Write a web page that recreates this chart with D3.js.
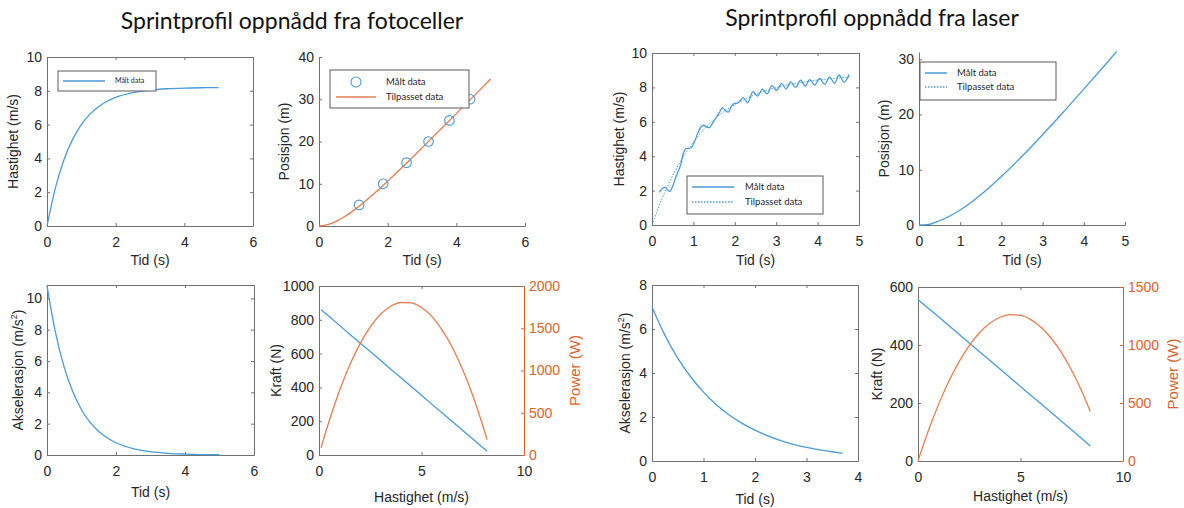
<!DOCTYPE html>
<html>
<head>
<meta charset="utf-8">
<script src="https://cdn.jsdelivr.net/npm/d3@7"></script>
<style>
body { margin: 0; background: #fff; }
</style>
</head>
<body>
<script>
// ---- Fotoceller ----
const fotoTid = [0, 0.25, 0.5, 0.75, 1, 1.25, 1.5, 1.75, 2, 2.5, 3, 3.5, 4, 4.5, 5];
const fotoFart = [0, 2.30, 3.95, 5.14, 6.00, 6.62, 7.06, 7.38, 7.61, 7.89, 8.04, 8.12, 8.16, 8.18, 8.19];

const fotoPosTid = [0, 0.25, 0.5, 0.75, 1, 1.5, 2, 2.5, 3, 3.5, 4, 4.5, 5];
const fotoPos = [0, 0.31, 1.10, 2.24, 3.64, 6.93, 10.62, 14.50, 18.49, 22.53, 26.60, 30.68, 34.78];
const fotoMaaltTid = [1.17, 1.87, 2.55, 3.19, 3.80, 4.40];
const fotoMaaltPos = [5, 10, 15, 20, 25, 30];

const fotoAksTid = [0, 0.25, 0.5, 0.75, 1, 1.25, 1.5, 1.75, 2, 2.5, 3, 3.5, 4, 4.5, 5];
const fotoAks = [10.8, 7.78, 5.59, 4.03, 2.89, 2.08, 1.50, 1.08, 0.78, 0.40, 0.21, 0.11, 0.06, 0.03, 0.015];

const fotoV = [0.1, 0.5, 1, 1.5, 2, 2.5, 3, 3.5, 4, 4.5, 5, 5.5, 6, 6.5, 7, 7.5, 8, 8.2];
const fotoKraft = [860, 819, 767, 715, 663, 612, 560, 508, 457, 405, 353, 301, 250, 198, 146, 94, 43, 22];
const fotoPower = [86, 405, 760, 1065, 1315, 1515, 1665, 1760, 1805, 1800, 1745, 1640, 1480, 1275, 1015, 705, 340, 180];

// ---- Laser ----
const laserMaaltTid = [0.18, 0.24, 0.31, 0.37, 0.43, 0.50, 0.57, 0.63, 0.70, 0.76, 0.82, 0.88, 0.95, 1.02, 1.10,
  1.18, 1.25, 1.32, 1.39, 1.48, 1.55, 1.63, 1.70, 1.77, 1.84, 1.91, 1.98, 2.08, 2.20, 2.31, 2.44, 2.55,
  2.67, 2.78, 2.90, 3.01, 3.13, 3.24, 3.35, 3.47, 3.59, 3.70, 3.81, 3.93, 4.05, 4.17, 4.29, 4.41, 4.52,
  4.64, 4.76];
const laserMaaltFart = [1.90, 2.10, 2.20, 2.05, 1.95, 2.25, 2.75, 3.10, 3.55, 4.20, 4.45, 4.45, 4.50, 4.80, 5.30,
  5.70, 5.80, 5.70, 5.66, 6.00, 6.25, 6.55, 6.82, 6.66, 6.56, 6.85, 7.06, 7.10, 7.40, 7.12, 7.75, 7.50,
  7.90, 7.62, 8.10, 7.82, 8.22, 7.92, 8.32, 8.00, 8.42, 8.08, 8.45, 8.14, 8.52, 8.18, 8.60, 8.24, 8.72,
  8.30, 8.75];
const laserTilpTid = [0, 0.2, 0.4, 0.6, 0.8, 1, 1.25, 1.5, 1.75, 2, 2.5, 3, 3.5, 4, 4.5, 4.8];
const laserTilpFart = [0, 1.29, 2.39, 3.33, 4.14, 4.82, 5.54, 6.12, 6.61, 7.00, 7.59, 7.99, 8.25, 8.43, 8.55, 8.61];

const laserPosTid = [0, 0.2, 0.5, 1, 1.5, 2, 2.5, 3, 3.5, 4, 4.5, 4.8];
const laserPos = [0, 0.05, 0.77, 2.72, 5.48, 8.78, 12.43, 16.34, 20.40, 24.58, 28.82, 31.40];

const laserAksTid = [0, 0.25, 0.5, 0.75, 1, 1.25, 1.5, 1.75, 2, 2.5, 3, 3.5, 3.7];
const laserAks = [7.0, 5.72, 4.68, 3.83, 3.13, 2.56, 2.09, 1.71, 1.40, 0.93, 0.62, 0.42, 0.35];

const laserV = [0, 0.5, 1, 1.5, 2, 2.5, 3, 3.5, 4, 4.5, 5, 5.5, 6, 6.5, 7, 7.5, 8, 8.4];
const laserKraft = [557, 527, 497, 467, 437, 407, 377, 347, 317, 287, 257, 227, 197, 167, 137, 107, 77, 52];
const laserPower = [0, 258, 486, 685, 855, 995, 1106, 1187, 1239, 1262, 1255, 1219, 1153, 1058, 934, 780, 597, 429];

const width = 1184, height = 508;
const blue = "#4a9ad6", orange = "#e67c50", orangeAxis = "#d9622b";
const ink = "#262626", axisCol = "#707070";
const axisFont = "'Liberation Sans', Arial, Helvetica, sans-serif";
const legendFont = "Lato, 'Open Sans', sans-serif";

const svg = d3.select("body").append("svg")
    .attr("width", width)
    .attr("height", height)
    .style("font-family", axisFont);

const zip = (a, b) => a.map((d, i) => [d, b[i]]);
const fmt = d => String(d);

function styleAxis(sel, col, textCol) {
    sel.attr("font-family", null);
    sel.selectAll(".domain").attr("stroke", col).attr("stroke-width", 1);
    sel.selectAll(".tick line").attr("stroke", col);
    sel.selectAll(".tick text")
        .attr("fill", textCol)
        .attr("font-size", 14)
        .style("font-family", axisFont);
}

function panel(p) {
    const x = d3.scaleLinear().domain(p.xDomain).range([p.x0, p.x1]);
    const y = d3.scaleLinear().domain(p.yDomain).range([p.y1, p.y0]);
    const g = svg.append("g");

    const bottom = g.append("g").attr("transform", `translate(0,${p.y1})`)
        .call(d3.axisBottom(x).tickValues(p.xTicks).tickFormat(fmt).tickSize(-3).tickSizeOuter(0).tickPadding(11));
    styleAxis(bottom, axisCol, ink);
    const left = g.append("g").attr("transform", `translate(${p.x0},0)`)
        .call(d3.axisLeft(y).tickValues(p.yTicks).tickFormat(fmt).tickSize(-3).tickSizeOuter(0).tickPadding(5));
    styleAxis(left, axisCol, ink);

    if (p.box) {
        const top = g.append("g").attr("transform", `translate(0,${p.y0})`)
            .call(d3.axisTop(x).tickValues(p.xTicks).tickSize(-3).tickSizeOuter(0).tickFormat(""));
        styleAxis(top, axisCol, ink);
        if (!p.y2) {
            const right = g.append("g").attr("transform", `translate(${p.x1},0)`)
                .call(d3.axisRight(y).tickValues(p.yTicks).tickSize(-3).tickSizeOuter(0).tickFormat(""));
            styleAxis(right, axisCol, ink);
        }
    }

    let y2 = null;
    if (p.y2) {
        y2 = d3.scaleLinear().domain(p.y2.domain).range([p.y1, p.y0]);
        const right = g.append("g").attr("transform", `translate(${p.x1},0)`)
            .call(d3.axisRight(y2).tickValues(p.y2.ticks).tickFormat(fmt).tickSize(-3).tickSizeOuter(0).tickPadding(5));
        styleAxis(right, orangeAxis, orangeAxis);
        g.append("text")
            .attr("transform", `translate(${p.x1 + p.y2.labelOff},${(p.y0 + p.y1) / 2}) rotate(-90)`)
            .attr("text-anchor", "middle")
            .attr("font-size", 15)
            .attr("fill", orangeAxis)
            .text(p.y2.label);
    }

    // axis labels
    g.append("text")
        .attr("x", (p.x0 + p.x1) / 2)
        .attr("y", p.y1 + p.xLabelOff)
        .attr("text-anchor", "middle")
        .attr("font-size", 14)
        .attr("fill", ink)
        .text(p.xLabel);

    const yl = g.append("text")
        .attr("transform", `translate(${p.x0 - p.yLabelOff},${(p.y0 + p.y1) / 2}) rotate(-90)`)
        .attr("text-anchor", "middle")
        .attr("font-size", 14)
        .attr("fill", ink);
    if (p.ySup) {
        yl.append("tspan").text(p.yLabel);
        yl.append("tspan").attr("font-size", 9).attr("dy", -6).text(p.ySup);
        yl.append("tspan").attr("dy", 6).text(")");
    } else {
        yl.text(p.yLabel);
    }

    // series
    p.series.forEach(s => {
        const ys = s.right ? y2 : y;
        if (s.type === "circle") {
            g.append("g").selectAll("circle")
                .data(zip(s.x, s.y))
                .enter().append("circle")
                .attr("cx", d => x(d[0]))
                .attr("cy", d => ys(d[1]))
                .attr("r", 4.8)
                .attr("fill", "none")
                .attr("stroke", s.color)
                .attr("stroke-width", 1.1);
        } else {
            const line = d3.line()
                .x(d => x(d[0]))
                .y(d => ys(d[1]))
                .curve(s.curve || d3.curveMonotoneX);
            g.append("path")
                .datum(zip(s.x, s.y))
                .attr("fill", "none")
                .attr("stroke", s.color)
                .attr("stroke-width", s.width || 1.3)
                .attr("stroke-dasharray", s.dash || null)
                .attr("d", line);
        }
    });

    if (p.legend) {
        const L = p.legend;
        g.append("rect")
            .attr("x", L.x).attr("y", L.y).attr("width", L.w).attr("height", L.h)
            .attr("fill", "#fff").attr("stroke", "#5a5a5a").attr("stroke-width", 1);
        L.items.forEach((it, i) => {
            const cy = L.y + L.rows[i];
            if (it.type === "circle") {
                g.append("circle")
                    .attr("cx", (L.lx0 + L.lx1) / 2).attr("cy", cy).attr("r", 5)
                    .attr("fill", "none").attr("stroke", it.color).attr("stroke-width", 1.1);
            } else {
                g.append("line")
                    .attr("x1", L.lx0).attr("x2", L.lx1).attr("y1", cy).attr("y2", cy)
                    .attr("stroke", it.color).attr("stroke-width", 1.5)
                    .attr("stroke-dasharray", it.dash || null);
            }
            g.append("text")
                .attr("x", L.tx).attr("y", cy)
                .attr("dy", "0.35em")
                .attr("font-size", L.fs)
                .attr("fill", ink)
                .style("font-family", legendFont)
                .text(it.label);
        });
    }
}

// titles
svg.append("text")
    .attr("x", 292).attr("y", 29)
    .attr("text-anchor", "middle")
    .attr("font-size", 23)
    .attr("fill", "#111")
    .style("font-family", legendFont)
    .text("Sprintprofil oppnådd fra fotoceller");
svg.append("text")
    .attr("x", 872).attr("y", 26)
    .attr("text-anchor", "middle")
    .attr("font-size", 23)
    .attr("fill", "#111")
    .style("font-family", legendFont)
    .text("Sprintprofil oppnådd fra laser");

// Panel 1
panel({
    x0: 47, x1: 253, y0: 57, y1: 226, box: true,
    xDomain: [0, 6], xTicks: [0, 2, 4, 6], yDomain: [0, 10], yTicks: [0, 2, 4, 6, 8, 10],
    xLabel: "Tid (s)", xLabelOff: 39, yLabel: "Hastighet (m/s)", yLabelOff: 29,
    series: [{ x: fotoTid, y: fotoFart, color: blue }],
    legend: { x: 58, y: 71, w: 98, h: 20, lx0: 63, lx1: 105, tx: 115, fs: 7, rows: [10],
        items: [{ label: "Målt data", color: blue }] }
});

// Panel 2
panel({
    x0: 319, x1: 525, y0: 57, y1: 226, box: false,
    xDomain: [0, 6], xTicks: [0, 2, 4, 6], yDomain: [0, 40], yTicks: [0, 10, 20, 30, 40],
    xLabel: "Tid (s)", xLabelOff: 39, yLabel: "Posisjon (m)", yLabelOff: 30,
    series: [
        { x: fotoPosTid, y: fotoPos, color: orange },
        { x: fotoMaaltTid, y: fotoMaaltPos, color: blue, type: "circle" }
    ],
    legend: { x: 330, y: 70, w: 139, h: 38, lx0: 336, lx1: 376, tx: 386, fs: 9.5, rows: [12, 27],
        items: [{ label: "Målt data", color: blue, type: "circle" }, { label: "Tilpasset data", color: orange }] }
});

// Panel 3
panel({
    x0: 47, x1: 254, y0: 285, y1: 455, box: true,
    xDomain: [0, 6], xTicks: [0, 2, 4, 6], yDomain: [0, 10.85], yTicks: [0, 2, 4, 6, 8, 10],
    xLabel: "Tid (s)", xLabelOff: 42, yLabel: "Akselerasjon (m/s", ySup: "2", yLabelOff: 24,
    series: [{ x: fotoAksTid, y: fotoAks, color: blue }]
});

// Panel 4
panel({
    x0: 319, x1: 524, y0: 286, y1: 455, box: true,
    xDomain: [0, 10], xTicks: [0, 5, 10], yDomain: [0, 1000], yTicks: [0, 200, 400, 600, 800, 1000],
    xLabel: "Hastighet (m/s)", xLabelOff: 47, yLabel: "Kraft (N)", yLabelOff: 38,
    y2: { domain: [0, 2000], ticks: [0, 500, 1000, 1500, 2000], label: "Power (W)", labelOff: 56 },
    series: [
        { x: fotoV, y: fotoKraft, color: blue, curve: d3.curveLinear },
        { x: fotoV, y: fotoPower, color: orange, right: true }
    ]
});

// Panel 5
panel({
    x0: 652, x1: 859, y0: 53, y1: 225, box: true,
    xDomain: [0, 5], xTicks: [0, 1, 2, 3, 4, 5], yDomain: [0, 10], yTicks: [0, 2, 4, 6, 8, 10],
    xLabel: "Tid (s)", xLabelOff: 40, yLabel: "Hastighet (m/s)", yLabelOff: 28,
    series: [
        { x: laserTilpTid, y: laserTilpFart, color: blue, dash: "1.5,1.5", width: 1 },
        { x: laserMaaltTid, y: laserMaaltFart, color: blue, curve: d3.curveCatmullRom }
    ],
    legend: { x: 687, y: 176, w: 136, h: 38, lx0: 692, lx1: 734, tx: 745, fs: 9.5, rows: [11, 26],
        items: [{ label: "Målt data", color: blue }, { label: "Tilpasset data", color: blue, dash: "1.5,1.5" }] }
});

// Panel 6
panel({
    x0: 919, x1: 1125, y0: 52, y1: 225, box: false,
    xDomain: [0, 5], xTicks: [0, 1, 2, 3, 4, 5], yDomain: [0, 31.3], yTicks: [0, 10, 20, 30],
    xLabel: "Tid (s)", xLabelOff: 40, yLabel: "Posisjon (m)", yLabelOff: 30,
    series: [{ x: laserPosTid, y: laserPos, color: blue }],
    legend: { x: 920, y: 62, w: 136, h: 38, lx0: 925, lx1: 947, tx: 957, fs: 9.5, rows: [11, 25],
        items: [{ label: "Målt data", color: blue }, { label: "Tilpasset data", color: blue, dash: "1.5,1.5" }] }
});

// Panel 7
panel({
    x0: 652, x1: 858, y0: 285, y1: 461, box: true,
    xDomain: [0, 4], xTicks: [0, 1, 2, 3, 4], yDomain: [0, 8], yTicks: [0, 2, 4, 6, 8],
    xLabel: "Tid (s)", xLabelOff: 43, yLabel: "Akselerasjon (m/s", ySup: "2", yLabelOff: 22,
    series: [{ x: laserAksTid, y: laserAks, color: blue }]
});

// Panel 8
panel({
    x0: 918, x1: 1123, y0: 287, y1: 461, box: true,
    xDomain: [0, 10], xTicks: [0, 5, 10], yDomain: [0, 600], yTicks: [0, 200, 400, 600],
    xLabel: "Hastighet (m/s)", xLabelOff: 40, yLabel: "Kraft (N)", yLabelOff: 36,
    y2: { domain: [0, 1500], ticks: [0, 500, 1000, 1500], label: "Power (W)", labelOff: 55 },
    series: [
        { x: laserV, y: laserKraft, color: blue, curve: d3.curveLinear },
        { x: laserV, y: laserPower, color: orange, right: true }
    ]
});
</script>
</body>
</html>
